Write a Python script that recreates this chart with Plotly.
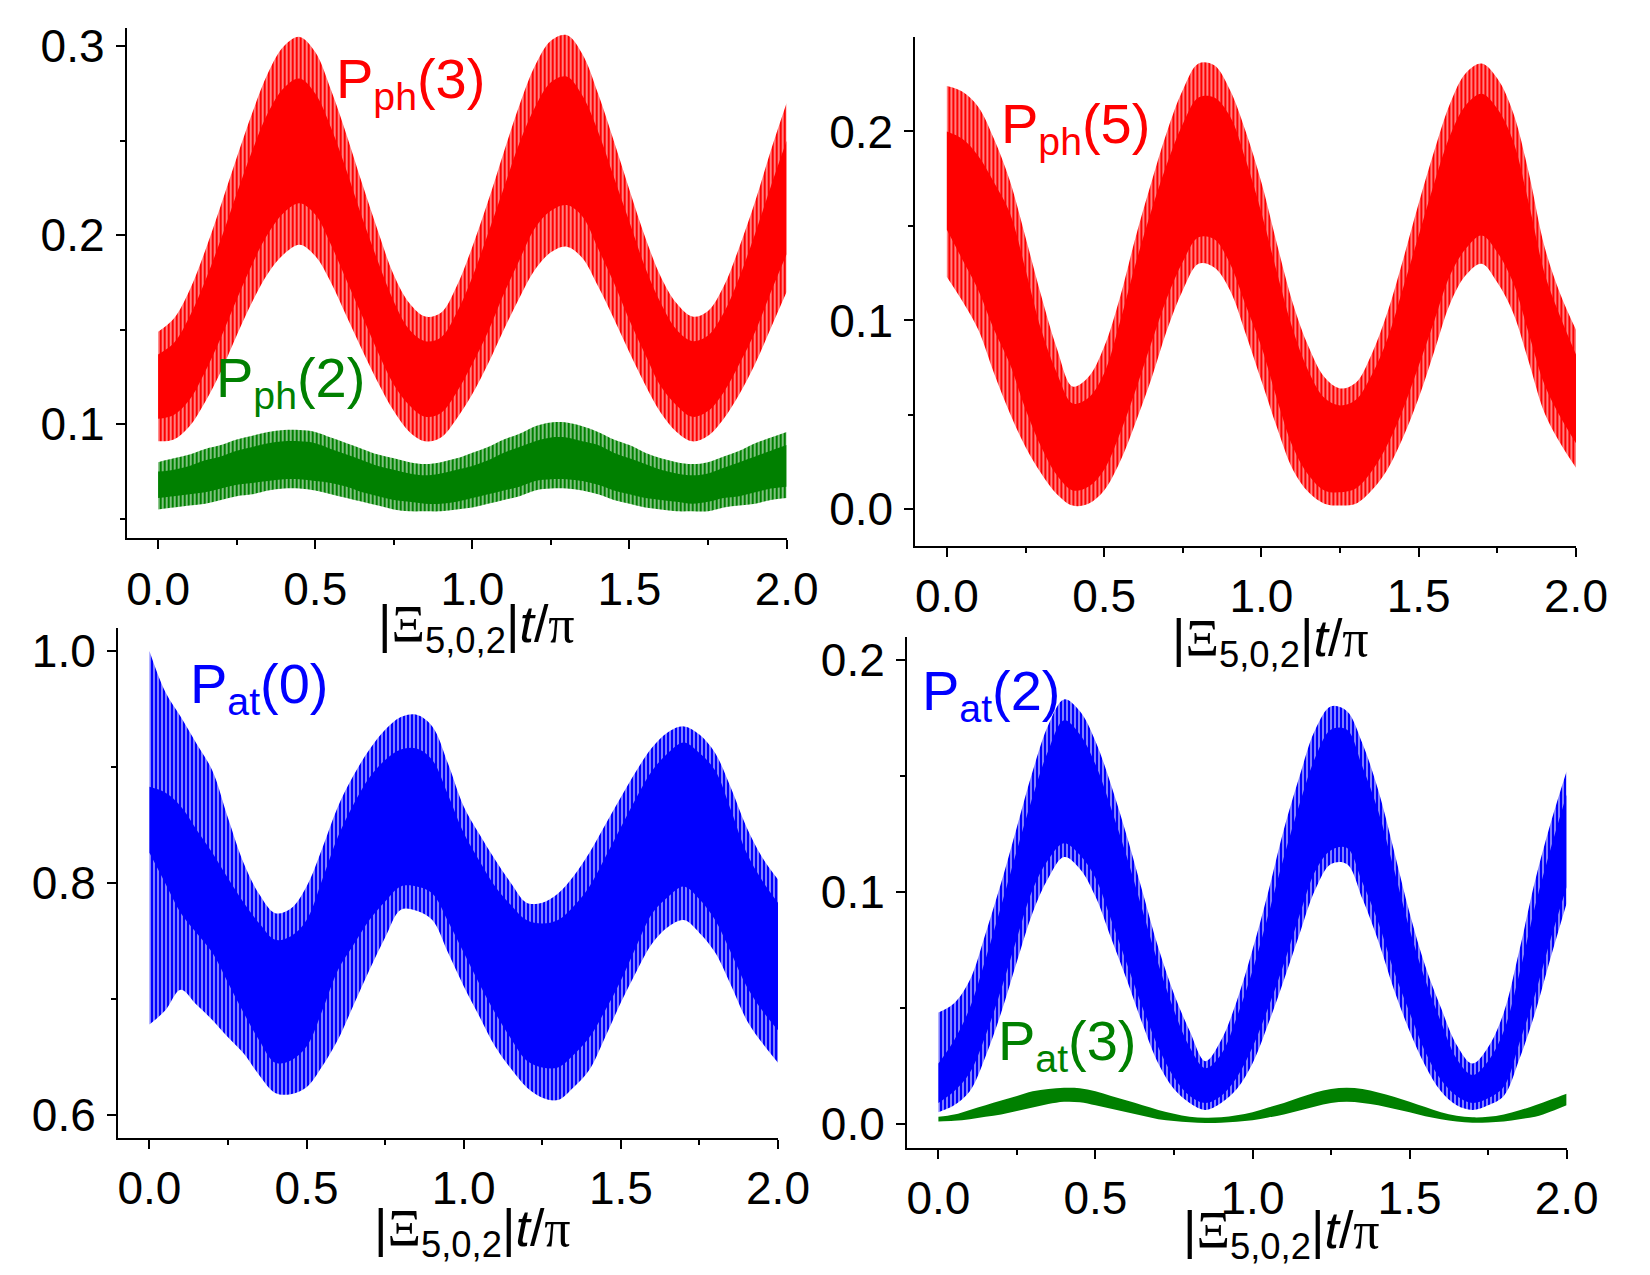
import plotly.graph_objects as go

W, H = 1650, 1275

# ---------------- data (envelopes) ----------------
u = [0.00, 0.05, 0.10, 0.15, 0.20, 0.25, 0.30, 0.35, 0.40, 0.45,
     0.50, 0.55, 0.60, 0.65, 0.70, 0.75, 0.80, 0.85, 0.90, 0.95,
     1.00, 1.05, 1.10, 1.15, 1.20, 1.25, 1.30, 1.35, 1.40, 1.45,
     1.50, 1.55, 1.60, 1.65, 1.70, 1.75, 1.80, 1.85, 1.90, 1.95, 2.00]

# top-left: P_ph(3)  (spike tips and dense core)
ph3_top = [.149, .156, .171, .192, .216, .241, .265, .286, .300, .305,
           .297, .277, .253, .227, .202, .179, .164, .157, .159, .173,
           .194, .218, .244, .269, .290, .303, .306, .296, .275, .250,
           .224, .199, .178, .164, .157, .160, .173, .194, .218, .245, .270]
ph3_bot = [.091, .092, .099, .112, .128, .147, .165, .180, .190, .195,
           .189, .175, .157, .139, .122, .107, .096, .091, .093, .103,
           .116, .132, .150, .167, .182, .191, .194, .188, .173, .156,
           .138, .121, .106, .096, .091, .094, .103, .116, .132, .151, .170]
ph3_ct = [.137, .143, .157, .176, .198, .222, .245, .265, .278, .283,
          .275, .257, .234, .209, .186, .165, .150, .144, .146, .159,
          .178, .201, .225, .249, .268, .281, .284, .274, .255, .231,
          .207, .183, .164, .150, .144, .147, .159, .178, .201, .226, .250]
ph3_cb = [.103, .105, .113, .128, .146, .166, .185, .201, .212, .217,
          .211, .195, .176, .157, .138, .121, .110, .104, .106, .117,
          .132, .149, .169, .187, .204, .213, .216, .210, .193, .175,
          .155, .137, .120, .110, .104, .107, .117, .132, .149, .170, .190]

# top-left: P_ph(2)
ph2_top = [.080, .082, .084, .087, .089, .092, .094, .096, .097, .097,
           .096, .093, .090, .087, .084, .082, .080, .079, .080, .082,
           .085, .088, .092, .095, .099, .101, .101, .099, .096, .092,
           .089, .085, .082, .080, .079, .080, .083, .086, .090, .093, .096]
ph2_bot = [.055, .056, .057, .058, .060, .062, .063, .065, .066, .066,
           .065, .063, .061, .059, .057, .055, .054, .054, .054, .055,
           .056, .058, .060, .062, .065, .066, .066, .065, .063, .060,
           .058, .056, .055, .054, .054, .054, .056, .057, .058, .060, .061]
ph2_ct = [.075, .076, .078, .081, .083, .086, .088, .090, .091, .091,
          .090, .087, .084, .081, .078, .076, .074, .073, .074, .076,
          .078, .081, .085, .088, .091, .093, .093, .091, .089, .085,
          .082, .079, .076, .074, .073, .074, .077, .080, .083, .086, .089]
ph2_cb = [.061, .062, .063, .064, .066, .068, .069, .070, .071, .071,
          .070, .069, .067, .064, .062, .060, .059, .058, .058, .059,
          .061, .063, .065, .067, .070, .071, .071, .070, .068, .065,
          .063, .061, .060, .059, .058, .059, .061, .062, .064, .066, .067]

# top-right: P_ph(5)
ph5_top = [.224, .221, .213, .196, .174, .144, .113, .085, .065, .070,
           .086, .112, .144, .173, .200, .222, .236, .235, .222, .200,
           .173, .140, .109, .086, .070, .064, .067, .082, .104, .132,
           .162, .190, .215, .231, .236, .228, .210, .178, .139, .114, .095]
ph5_bot = [.123, .110, .095, .072, .051, .033, .019, .008, .002, .003,
           .010, .025, .046, .069, .095, .116, .130, .128, .116, .093,
           .068, .043, .021, .009, .003, .002, .003, .010, .021, .038,
           .059, .084, .109, .124, .130, .120, .104, .078, .051, .035, .022]
ph5_ct = [.200, .196, .187, .173, .157, .127, .095, .072, .056, .059,
          .072, .099, .130, .158, .183, .204, .218, .218, .208, .185,
          .157, .125, .095, .073, .059, .055, .058, .071, .090, .117,
          .145, .173, .198, .214, .220, .212, .195, .162, .125, .102, .082]
ph5_cb = [.148, .132, .116, .095, .077, .053, .033, .018, .010, .012,
          .021, .040, .063, .088, .112, .131, .144, .143, .130, .108,
          .086, .058, .033, .018, .010, .009, .011, .020, .034, .053,
          .076, .100, .124, .138, .145, .136, .120, .093, .066, .049, .035]

# bottom-left: P_at(0)
at0_top = [1.000, .965, .943, .920, .897, .856, .817, .790, .774, .778,
           .797, .830, .866, .893, .915, .932, .943, .945, .935, .903,
           .866, .842, .820, .800, .783, .783, .791, .806, .826, .850,
           .874, .897, .917, .930, .935, .928, .912, .882, .848, .822, .803]
at0_bot = [.678, .690, .708, .695, .682, .667, .653, .634, .619, .618,
           .624, .642, .665, .695, .725, .753, .777, .776, .768, .740,
           .711, .685, .659, .640, .624, .615, .613, .624, .639, .667,
           .697, .724, .748, .762, .768, .757, .740, .712, .682, .662, .645]
at0_ct = [.883, .878, .866, .846, .826, .804, .783, .765, .751, .754,
          .768, .803, .840, .868, .891, .906, .915, .916, .906, .876,
          .843, .819, .797, .781, .768, .765, .768, .780, .797, .822,
          .848, .874, .897, .912, .921, .912, .897, .863, .826, .802, .783]
at0_cb = [.826, .800, .774, .757, .740, .714, .688, .664, .645, .647,
          .659, .690, .725, .747, .768, .784, .797, .797, .791, .767,
          .740, .713, .688, .666, .647, .641, .641, .652, .667, .690,
          .716, .746, .774, .788, .797, .786, .768, .740, .711, .690, .673]

# bottom-right: P_at(2)
at2_top = [.048, .052, .062, .082, .104, .128, .152, .172, .183, .178,
           .165, .146, .124, .100, .076, .056, .040, .027, .036, .053,
           .075, .100, .127, .150, .170, .180, .178, .164, .144, .118,
           .091, .068, .050, .034, .026, .033, .048, .075, .105, .130, .152]
at2_bot = [.005, .008, .014, .029, .048, .070, .091, .106, .115, .110,
           .098, .080, .062, .043, .026, .015, .009, .006, .009, .015,
           .026, .043, .062, .082, .101, .112, .112, .097, .079, .058,
           .040, .025, .014, .008, .006, .008, .012, .028, .048, .072, .095]
at2_ct = [.026, .036, .050, .071, .094, .118, .141, .161, .174, .168,
          .155, .136, .115, .092, .069, .049, .033, .024, .030, .046,
          .066, .090, .115, .138, .158, .170, .170, .154, .135, .110,
          .084, .062, .044, .028, .021, .027, .040, .065, .094, .119, .142]
at2_cb = [.009, .014, .022, .038, .058, .080, .101, .114, .121, .116,
          .106, .088, .069, .050, .033, .020, .012, .009, .012, .020,
          .033, .050, .069, .090, .109, .118, .119, .104, .087, .066,
          .048, .031, .019, .012, .009, .011, .016, .035, .056, .080, .102]

# bottom-right: P_at(3)
at3_top = [.0030, .0040, .0060, .0080, .0100, .0120, .0140, .0150, .0155, .0153,
           .0140, .0120, .0100, .0080, .0060, .0043, .0030, .0026, .0028, .0037,
           .0050, .0070, .0090, .0113, .0135, .0150, .0155, .0150, .0135, .0117,
           .0095, .0072, .0050, .0035, .0028, .0030, .0040, .0058, .0080, .0105, .0130]
at3_bot = [.0010, .0013, .0020, .0030, .0040, .0055, .0070, .0085, .0095, .0093,
           .0080, .0065, .0050, .0035, .0020, .0012, .0007, .0004, .0005, .0009,
           .0015, .0027, .0040, .0057, .0075, .0090, .0095, .0090, .0080, .0065,
           .0050, .0033, .0020, .0010, .0005, .0006, .0010, .0020, .0030, .0053, .0080]

x_tickvals = [0.0, 0.5, 1.0, 1.5, 2.0]
x_ticktext = ["0.0", "0.5", "1.0", "1.5", "2.0"]
x_minor = [0.25, 0.75, 1.25, 1.75]

RED, GREEN, BLUE = "#ff0000", "#008000", "#0000ff"

fig = go.Figure()


def band(xa, ya, lo, hi, color, pattern=True):
    fig.add_trace(go.Scatter(x=u, y=lo, xaxis=xa, yaxis=ya, mode="lines",
                             line=dict(width=0, color=color, shape="spline", smoothing=1.0),
                             hoverinfo="skip", showlegend=False))
    kw = dict(x=u, y=hi, xaxis=xa, yaxis=ya, mode="lines", fill="tonexty",
              line=dict(width=0, color=color, shape="spline", smoothing=1.0),
              hoverinfo="skip", showlegend=False)
    if pattern:
        kw["fillpattern"] = dict(shape="|", size=4, solidity=0.75, fgopacity=1,
                                 fgcolor=color, bgcolor="rgba(255,255,255,0)")
        kw["fillcolor"] = "rgba(255,255,255,0)"
    else:
        kw["fillcolor"] = color
    fig.add_trace(go.Scatter(**kw))


band("x", "y", ph3_bot, ph3_top, RED)
band("x", "y", ph3_cb, ph3_ct, RED, False)
band("x", "y", ph2_bot, ph2_top, GREEN)
band("x", "y", ph2_cb, ph2_ct, GREEN, False)

band("x2", "y2", ph5_bot, ph5_top, RED)
band("x2", "y2", ph5_cb, ph5_ct, RED, False)

band("x3", "y3", at0_bot, at0_top, BLUE)
band("x3", "y3", at0_cb, at0_ct, BLUE, False)

band("x4", "y4", at2_bot, at2_top, BLUE)
band("x4", "y4", at2_cb, at2_ct, BLUE, False)
band("x4", "y4", at3_bot, at3_top, GREEN, False)


def px(xp):
    return xp / W


def py(yp):
    return 1 - yp / H


TICKFONT = dict(family="Liberation Sans, Arial, sans-serif", size=46, color="black")


def xaxis(dom, anchor):
    return dict(domain=dom, anchor=anchor, range=[-0.1, 2.0], showline=True,
                linecolor="black", linewidth=2, ticks="outside", ticklen=9, tickwidth=2,
                tickcolor="black", tickvals=x_tickvals, ticktext=x_ticktext,
                minor=dict(tickvals=x_minor, ticks="outside", ticklen=5, tickwidth=2,
                           tickcolor="black"),
                showgrid=False, zeroline=False, tickfont=TICKFONT, fixedrange=True,
                automargin=False)


def yaxis(dom, anchor, rng, vals, minor):
    return dict(domain=dom, anchor=anchor, range=rng, showline=True,
                linecolor="black", linewidth=2, ticks="outside", ticklen=9, tickwidth=2,
                tickcolor="black", tickvals=vals, ticktext=["%.1f" % v for v in vals],
                minor=dict(tickvals=minor, ticks="outside", ticklen=5, tickwidth=2,
                           tickcolor="black"),
                showgrid=False, zeroline=False, tickfont=TICKFONT, ticklabelstandoff=2,
                fixedrange=True, automargin=False)


fig.update_layout(
    width=W, height=H, autosize=False, margin=dict(l=0, r=0, t=0, b=0, pad=0),
    paper_bgcolor="white", plot_bgcolor="white", showlegend=False,
    font=dict(family="Liberation Sans, Arial, sans-serif", color="black"),
    xaxis=xaxis([px(126.7), px(786.6)], "y"),
    yaxis=yaxis([py(538.3), py(28)], "x", [0.0397, 0.3097], [0.1, 0.2, 0.3], [0.05, 0.15, 0.25]),
    xaxis2=xaxis([px(915.4), px(1576)], "y2"),
    yaxis2=yaxis([py(546), py(37)], "x2", [-0.0194, 0.25], [0.0, 0.1, 0.2], [0.05, 0.15]),
    xaxis3=xaxis([px(118), px(778)], "y3"),
    yaxis3=yaxis([py(1138), py(628)], "x3", [0.5802, 1.0198], [0.6, 0.8, 1.0], [0.7, 0.9]),
    xaxis4=xaxis([px(907), px(1566.6)], "y4"),
    yaxis4=yaxis([py(1147.7), py(637)], "x4", [-0.0103, 0.2099], [0.0, 0.1, 0.2], [0.05, 0.15]),
)

XTITLE = ("|<span style='font-family:Liberation Serif'>Ξ</span>"
          "<sub>5,0,2</sub>|<i>t</i>/<span style='font-family:Liberation Serif'>π</span>")

for cx, cy in [(477, 628), (1270, 642), (472, 1232), (1281, 1234)]:
    fig.add_annotation(x=px(cx), y=py(cy), xref="paper", yref="paper", text=XTITLE,
                       showarrow=False, xanchor="center", yanchor="middle",
                       font=dict(size=52, color="black"))


def label(xl, yc, text, color):
    fig.add_annotation(x=px(xl), y=py(yc), xref="paper", yref="paper", text=text,
                       showarrow=False, xanchor="left", yanchor="middle",
                       font=dict(size=56, color=color))


label(334, 82, "P<sub>ph</sub>(3)", RED)
label(214, 382, "P<sub>ph</sub>(2)", GREEN)
label(999, 128, "P<sub>ph</sub>(5)", RED)
label(188, 688, "P<sub>at</sub>(0)", BLUE)
label(920, 694, "P<sub>at</sub>(2)", BLUE)
label(996, 1044, "P<sub>at</sub>(3)", GREEN)

fig.write_html("out.html", config={"responsive": False})
